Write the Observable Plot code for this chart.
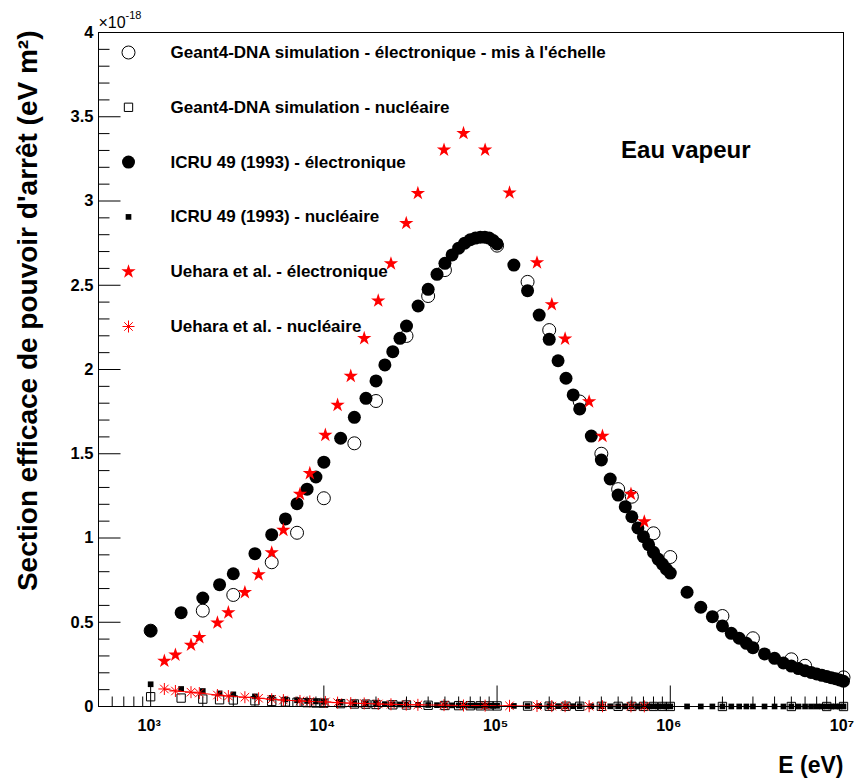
<!DOCTYPE html>
<html><head><meta charset="utf-8">
<script src="https://cdn.jsdelivr.net/npm/d3@7"></script>
<script src="https://cdn.jsdelivr.net/npm/@observablehq/plot@0.6"></script>
<style>body{margin:0;background:#fff;} #chart{width:854px;height:784px;}</style>
</head><body><div id="chart"></div>
<script>
// ---------- DATA (energies in keV, cross sections in 1e-18 eV m²) ----------
const icruEnergy = [1,1.5,2,2.5,3,4,5,6,7,8,9,10,12.5,15,17.5,20,22.5,25,27.5,30,35,40,45,50,55,60,65,70,75,80,85,90,95,100,125,150,175,200,225,250,275,300,350,400,450,500,550,600,650,700,750,800,850,900,950,1000,1250,1500,1750,2000,2250,2500,2750,3000,3500,4000,4500,5000,5500,6000,6500,7000,7500,8000,8500,9000,9500,10000];
const icruElec = [0.45,0.557,0.644,0.723,0.788,0.907,1.02,1.113,1.204,1.29,1.362,1.45,1.592,1.716,1.829,1.932,2.027,2.106,2.185,2.258,2.377,2.476,2.565,2.63,2.68,2.72,2.75,2.77,2.78,2.785,2.785,2.78,2.765,2.745,2.62,2.468,2.323,2.179,2.052,1.948,1.849,1.766,1.605,1.463,1.35,1.255,1.186,1.126,1.06,1.008,0.96,0.915,0.875,0.845,0.815,0.792,0.678,0.589,0.533,0.478,0.434,0.405,0.375,0.349,0.312,0.286,0.258,0.24,0.225,0.212,0.202,0.193,0.185,0.178,0.171,0.165,0.158,0.15];
const icruNucl = [0.132,0.104,0.092,0.078,0.072,0.06,0.051,0.042,0.037,0.033,0.03,0.028,0.023,0.02,0.018,0.016,0.014,0.013,0.012,0.011,0.0098,0.0088,0.008,0.0073,0.0068,0.0063,0.0059,0.0055,0.0052,0.0049,0.0047,0.0045,0.0043,0.0041,0.0034,0.0029,0.0025,0.0022,0.002,0.0018,0.0017,0.0016,0.0014,0.0012,0.0011,0.001,0.0009,0.00085,0.0008,0.00075,0.0007,0.00066,0.00062,0.00059,0.00056,0.00054,0.00045,0.00038,0.00033,0.0003,0.00027,0.00024,0.00022,0.0002,0.00018,0.00016,0.00014,0.00013,0.00012,0.00011,0.0001,0.0001,0.00009,0.00008,0.00008,0.00007,0.00007,0.00007];

const g4ElecEnergy = [1,2,3,5,7,10,15,20,30,40,50,100,150,200,300,400,500,600,800,1000,2000,3000,5000,6000,10000];
const g4Elec = [0.45,0.569,0.662,0.856,1.031,1.236,1.562,1.813,2.199,2.436,2.59,2.735,2.52,2.234,1.81,1.5,1.29,1.245,1.028,0.887,0.537,0.405,0.28,0.242,0.173];

const g4NuclEnergy = [1,1.5,2,2.5,3,4,5,6,7,8,9,10,12.5,15,17.5,20,25,30,40,50,60,70,80,90,100,150,200,250,300,400,500,600,700,800,900,1000,2000,5000,8000,10000];
const g4Nucl = [0.058,0.05,0.044,0.04,0.039,0.034,0.03,0.027,0.025,0.023,0.021,0.02,0.017,0.015,0.014,0.012,0.01,0.009,0.0072,0.006,0.0052,0.0046,0.0041,0.0037,0.0034,0.0024,0.0019,0.0016,0.0013,0.001,0.0008,0.0007,0.0006,0.0005,0.00045,0.0004,0.0002,0.0001,0.00006,0.00005];

const ueharaEnergy = [1.2,1.39,1.71,1.91,2.43,2.81,3.5,4.2,5.0,5.84,7.28,8.3,10.2,12.0,14.3,17.1,20.6,24.4,29.9,34.9,49.4,64,85.3,118,170,207,247,340,406,593,708];
const ueharaElec = [0.27,0.306,0.365,0.41,0.497,0.557,0.677,0.783,0.913,1.047,1.26,1.384,1.611,1.789,1.961,2.185,2.408,2.628,2.868,3.046,3.303,3.402,3.303,3.049,2.634,2.386,2.182,1.809,1.605,1.261,1.097];
const ueharaNucl = [0.104,0.092,0.085,0.08,0.068,0.062,0.055,0.049,0.043,0.038,0.033,0.03,0.027,0.023,0.02,0.018,0.015,0.013,0.011,0.01,0.008,0.006,0.005,0.004,0.003,0.0025,0.002,0.0016,0.0014,0.001,0.0009];

const xMajorTicks = [1e3,1e4,1e5,1e6,1e7];
const xTickLabels = ["10³","10⁴","10⁵","10⁶","10⁷"];
const yMajorTicks = [0,0.5,1,1.5,2,2.5,3,3.5,4];
const yTickLabels = ["0","0.5","1","1.5","2","2.5","3","3.5","4"];
const legendLabels = [
  "Geant4-DNA simulation - électronique - mis à l'échelle",
  "Geant4-DNA simulation - nucléaire",
  "ICRU 49 (1993) - électronique",
  "ICRU 49 (1993) - nucléaire",
  "Uehara et al. - électronique",
  "Uehara et al. - nucléaire"
];
const xTitle = "E (eV)";
const yTitle = "Section efficace de pouvoir d'arrêt (eV m²)";
const panelLabel = "Eau vapeur";
const xDomain = [500, 1e7];
const yDomain = [0, 4];

// ---------- build rows ----------
const rows = (E, V) => E.map((e, i) => ({x: e * 1000, y: V[i]}));
const series = [
  rows(g4ElecEnergy, g4Elec),
  rows(g4NuclEnergy, g4Nucl),
  rows(icruEnergy, icruElec),
  rows(icruEnergy, icruNucl),
  rows(ueharaEnergy, ueharaElec),
  rows(ueharaEnergy, ueharaNucl)
];

// minor ticks
const xMinorTicks = [];
for (let p = 2; p <= 6; p++) for (let m = 2; m <= 9; m++) {
  const v = m * Math.pow(10, p);
  if (v > xDomain[0] && v < xDomain[1]) xMinorTicks.push(v);
}
const yMinorTicks = d3.range(0, 41).map(i => i / 10).filter(v => !yMajorTicks.some(t => Math.abs(t - v) < 1e-9));

// shapes
const tickShape = {draw(ctx, l) { ctx.moveTo(0, 0); ctx.lineTo(0, -l); }};
const rootAsterisk = {draw(ctx, size) {
  const r = Math.sqrt(size / Math.PI) * 1.5, d = r * Math.SQRT1_2;
  ctx.moveTo(-r, 0); ctx.lineTo(r, 0); ctx.moveTo(0, -r); ctx.lineTo(0, r);
  ctx.moveTo(-d, -d); ctx.lineTo(d, d); ctx.moveTo(-d, d); ctx.lineTo(d, -d);
}};

const font = "'Liberation Sans', Arial, Helvetica, sans-serif";
const markerStyles = [
  {symbol: "circle", r: 6.5, fill: "none", stroke: "black", strokeWidth: 1},
  {symbol: "square", r: 4.7, fill: "none", stroke: "black", strokeWidth: 1},
  {symbol: "circle", r: 6.5, fill: "black", stroke: "none"},
  {symbol: "square", r: 3.2, fill: "black", stroke: "none"},
  {symbol: "star", r: 4.5, fill: "red", stroke: "none"},
  {symbol: rootAsterisk, r: 4, fill: "none", stroke: "red", strokeWidth: 1}
];

const legendMarks = legendLabels.flatMap((lab, i) => [
  Plot.dot([lab], {frameAnchor: "top-left", dx: 30, dy: 20 + i * 54.8, ...markerStyles[i]}),
  Plot.text([lab], {frameAnchor: "top-left", lineAnchor: "middle", dx: 72, dy: 20 + i * 54.8, text: d => d, textAnchor: "start", fontSize: 17, fontWeight: "bold", fill: "black"})
]);

const vecOpts = {anchor: "start", shape: tickShape, stroke: "black", strokeWidth: 1, strokeLinecap: "butt"};

const plot = Plot.plot({
  width: 854, height: 784,
  marginLeft: 98, marginRight: 11, marginTop: 32, marginBottom: 78,
  x: {type: "log", domain: xDomain},
  y: {domain: yDomain},
  style: {fontFamily: font, background: "white", color: "black"},
  marks: [
    // data
    Plot.dot(series[0], {x: "x", y: "y", ...markerStyles[0]}),
    Plot.dot(series[1], {x: "x", y: "y", ...markerStyles[1]}),
    Plot.dot(series[2], {x: "x", y: "y", ...markerStyles[2]}),
    Plot.dot(series[3], {x: "x", y: "y", ...markerStyles[3]}),
    Plot.dot(series[4], {x: "x", y: "y", ...markerStyles[4]}),
    Plot.line(series[5], {x: "x", y: "y", stroke: "red", strokeWidth: 1}),
    Plot.dot(series[5], {x: "x", y: "y", ...markerStyles[5]}),
    // frame & ticks (ROOT style, inside the frame)
    Plot.frame({stroke: "black", strokeWidth: 1}),
    Plot.vector(yMajorTicks, {y: d => d, frameAnchor: "left", length: 22, rotate: 90, ...vecOpts}),
    Plot.vector(yMinorTicks, {y: d => d, frameAnchor: "left", length: 11, rotate: 90, ...vecOpts}),
    Plot.vector(xMajorTicks, {x: d => d, frameAnchor: "bottom", length: 21, rotate: 0, ...vecOpts}),
    Plot.vector(xMinorTicks, {x: d => d, frameAnchor: "bottom", length: 10, rotate: 0, ...vecOpts}),
    // axis tick labels
    Plot.axisY(yMajorTicks, {tickSize: 0, tickPadding: 5, tickFormat: d => yTickLabels[yMajorTicks.indexOf(d)], fontSize: 16.5, fontWeight: "bold", label: null}),
    Plot.axisX(xMajorTicks, {tickSize: 0, tickPadding: 13, dx: -1.5, tickFormat: d => xTickLabels[xMajorTicks.indexOf(d)], fontSize: 16, fontWeight: "bold", label: null}),
    // titles / annotations
    Plot.text([yTitle], {frameAnchor: "top-left", lineAnchor: "middle", rotate: -90, textAnchor: "end", dx: -70, dy: -2, text: d => d, fontSize: 28, fontWeight: "bold", fill: "black"}),
    Plot.text([xTitle], {frameAnchor: "bottom-right", lineAnchor: "middle", textAnchor: "end", dx: 0, dy: 59, text: d => d, fontSize: 23, fontWeight: "bold", fill: "black"}),
    Plot.text(["×10"], {frameAnchor: "top-left", lineAnchor: "middle", textAnchor: "start", dx: 0, dy: -10, text: d => d, fontSize: 16, fill: "black"}),
    Plot.text(["-18"], {frameAnchor: "top-left", lineAnchor: "middle", textAnchor: "start", dx: 27, dy: -17, text: d => d, fontSize: 11, fill: "black"}),
    Plot.text([panelLabel], {frameAnchor: "top-right", lineAnchor: "middle", textAnchor: "end", dx: -93, dy: 118, text: d => d, fontSize: 24, fontWeight: "bold", fill: "black"}),
    ...legendMarks
  ]
});
document.getElementById("chart").appendChild(plot);
</script>
</body></html>
